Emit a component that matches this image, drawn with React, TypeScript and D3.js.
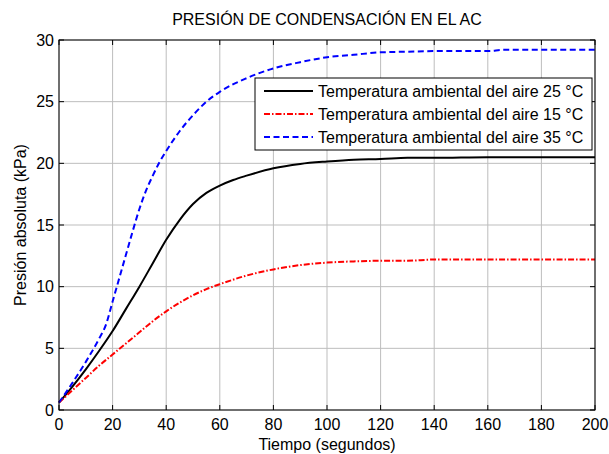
import React from "react";
import * as d3 from "d3";

const title = "PRESIÓN DE CONDENSACIÓN EN EL AC";
const xLabel = "Tiempo (segundos)";
const yLabel = "Presión absoluta (kPa)";
const xTicks = [0, 20, 40, 60, 80, 100, 120, 140, 160, 180, 200];
const yTicks = [0, 5, 10, 15, 20, 25, 30];

const tBlack = [0, 5, 10, 15, 20, 25, 30, 35, 40, 45, 50, 55, 60, 65, 70, 80, 90, 100, 110, 120, 130, 140, 160, 180, 200];
const vBlack = [0.6, 1.9, 3.3, 4.8, 6.4, 8.2, 10.0, 11.9, 13.8, 15.4, 16.7, 17.6, 18.2, 18.65, 19.0, 19.6, 19.95, 20.15, 20.3, 20.35, 20.45, 20.45, 20.5, 20.5, 20.5];

const tRed = [0, 5, 10, 15, 20, 25, 30, 35, 40, 45, 50, 55, 60, 70, 80, 90, 100, 110, 120, 130, 140, 160, 180, 200];
const vRed = [0.6, 1.6, 2.6, 3.6, 4.5, 5.4, 6.3, 7.2, 8.0, 8.7, 9.3, 9.8, 10.2, 10.9, 11.4, 11.75, 11.95, 12.05, 12.1, 12.1, 12.2, 12.2, 12.2, 12.2];

const tBlue = [0, 5, 10, 15, 17.5, 20, 22.5, 25, 27.5, 30, 32.5, 35, 37.5, 40, 45, 50, 55, 60, 70, 80, 90, 100, 110, 120, 130, 140, 160, 166, 180, 200];
const vBlue = [0.6, 2.2, 3.9, 5.8, 6.9, 8.8, 10.7, 12.6, 14.5, 16.3, 17.8, 19.0, 20.1, 21.0, 22.6, 23.9, 25.0, 25.8, 26.9, 27.7, 28.2, 28.6, 28.8, 29.0, 29.05, 29.1, 29.1, 29.2, 29.2, 29.2];

const seriesNames = [
  "Temperatura ambiental del aire 25 °C",
  "Temperatura ambiental del aire 15 °C",
  "Temperatura ambiental del aire 35 °C",
];

export default function App() {
  const W = 609, H = 454;
  const L = 59, R = 595, T = 40, B = 410;
  const x = d3.scaleLinear().domain([0, 200]).range([L, R]);
  const y = d3.scaleLinear().domain([0, 30]).range([B, T]);
  const font = "'Liberation Sans', Arial, sans-serif";
  const line = d3.line<[number, number]>().x(d => x(d[0])).y(d => y(d[1])).curve(d3.curveMonotoneX);
  const series = [
    { t: tBlack, v: vBlack, color: "#000", dash: "none" },
    { t: tRed, v: vRed, color: "#ff0000", dash: "6,2,1.5,2" },
    { t: tBlue, v: vBlue, color: "#0000ff", dash: "6,3.5" },
  ];
  const tk = 5;
  return (
    <svg width={W} height={H} style={{ position: "absolute", left: 0, top: 0, background: "#fff" }} fontFamily={font}>
      <rect x={0} y={0} width={W} height={H} fill="#fff" />
      {xTicks.map(v => (
        <line key={"gx" + v} x1={x(v)} x2={x(v)} y1={T} y2={B} stroke="#bdbdbd" strokeWidth={1} />
      ))}
      {yTicks.map(v => (
        <line key={"gy" + v} x1={L} x2={R} y1={y(v)} y2={y(v)} stroke="#bdbdbd" strokeWidth={1} />
      ))}
      {xTicks.map(v => (
        <g key={"tx" + v}>
          <line x1={x(v)} x2={x(v)} y1={B} y2={B - tk} stroke="#000" />
          <line x1={x(v)} x2={x(v)} y1={T} y2={T + tk} stroke="#000" />
          <text x={x(v)} y={430} textAnchor="middle" fontSize={16}>{v}</text>
        </g>
      ))}
      {yTicks.map(v => (
        <g key={"ty" + v}>
          <line x1={L} x2={L + tk} y1={y(v)} y2={y(v)} stroke="#000" />
          <line x1={R} x2={R - tk} y1={y(v)} y2={y(v)} stroke="#000" />
          <text x={54} y={y(v) + 5.6} textAnchor="end" fontSize={16}>{v}</text>
        </g>
      ))}
      {series.map((s, i) => (
        <path key={"s" + i} d={line(s.t.map((t, j) => [t, s.v[j]] as [number, number])) || ""}
          fill="none" stroke={s.color} strokeWidth={2} strokeDasharray={s.dash} />
      ))}
      <rect x={L} y={T} width={R - L} height={B - T} fill="none" stroke="#000" strokeWidth={1} />
      <g>
        <rect x={255} y={78} width={337} height={72} fill="#fff" stroke="#000" strokeWidth={1} />
        {series.map((s, i) => (
          <g key={"lg" + i}>
            <line x1={264} x2={313} y1={91 + i * 23} y2={91 + i * 23} stroke={s.color} strokeWidth={2} strokeDasharray={s.dash} />
            <text x={318} y={91 + i * 23 + 5.5} fontSize={16}>{seriesNames[i]}</text>
          </g>
        ))}
      </g>
      <text x={(L + R) / 2} y={25} textAnchor="middle" fontSize={16}>{title}</text>
      <text x={(L + R) / 2} y={450} textAnchor="middle" fontSize={16}>{xLabel}</text>
      <text transform={`translate(26,${225}) rotate(-90)`} textAnchor="middle" fontSize={16}>{yLabel}</text>
    </svg>
  );
}
